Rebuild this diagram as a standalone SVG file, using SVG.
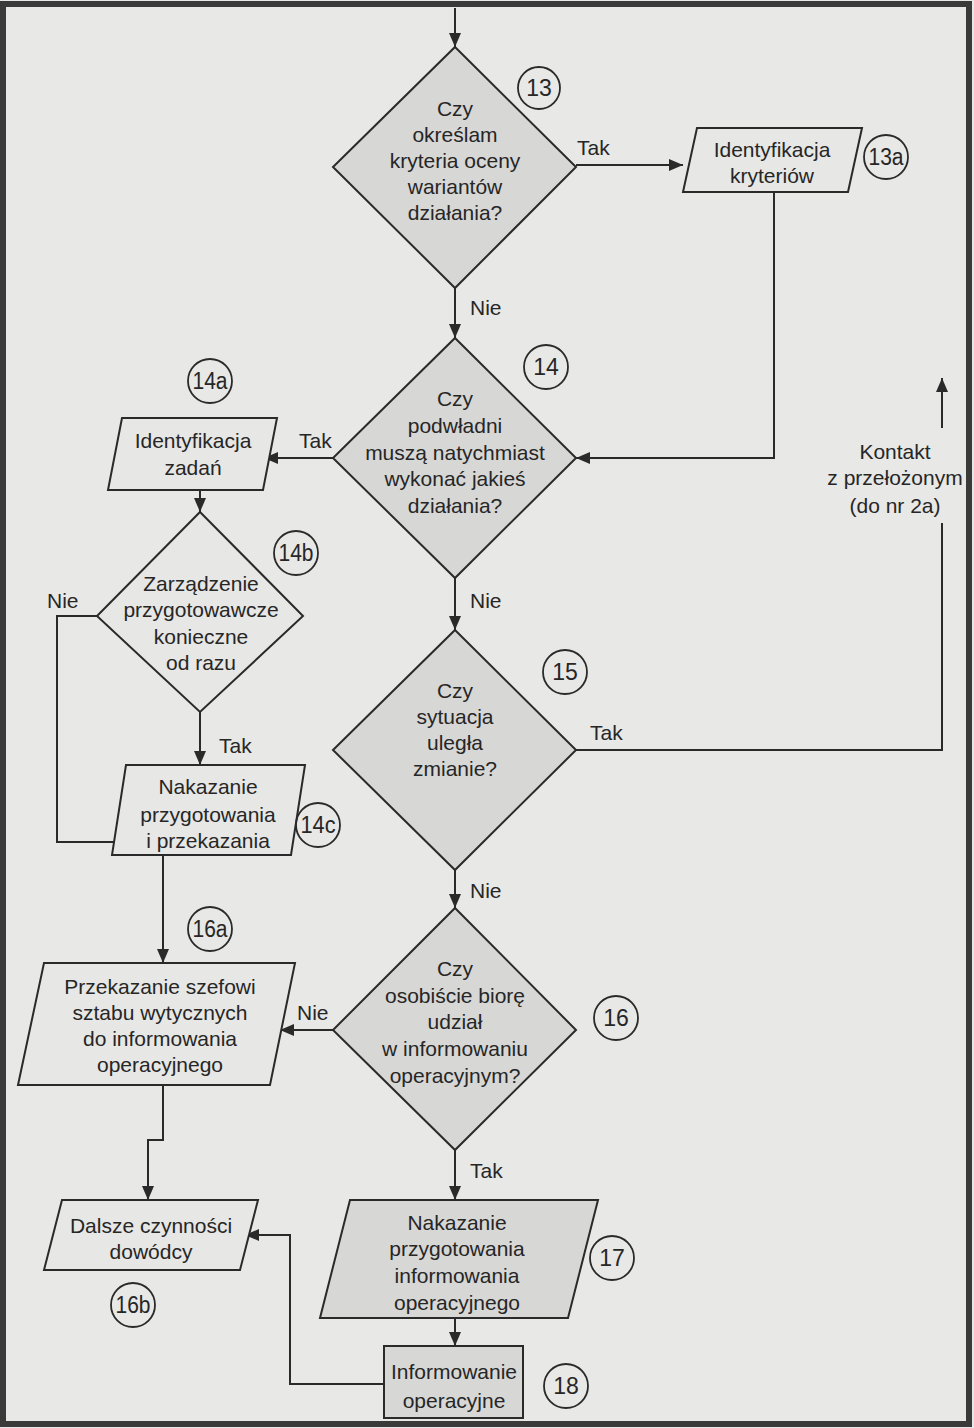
<svg xmlns="http://www.w3.org/2000/svg" width="974" height="1428" viewBox="0 0 974 1428">
  <defs>
    <marker id="arr" viewBox="0 0 14 12" refX="14" refY="6" markerWidth="14" markerHeight="12" markerUnits="userSpaceOnUse" orient="auto">
      <path d="M0,0 L14,6 L0,12 Z" fill="#2a2a2a"/>
    </marker>
    <style>
      .t{font-family:"Liberation Sans",Arial,sans-serif;font-size:21px;fill:#262626;text-anchor:middle}
      .lbl{font-family:"Liberation Sans",Arial,sans-serif;font-size:21px;fill:#262626}
      .num{font-family:"Liberation Sans",Arial,sans-serif;font-size:23px;fill:#262626;text-anchor:middle}
      .dia{fill:#d7d7d5;stroke:#2a2a2a;stroke-width:2}
      .box{fill:#e7e7e5;stroke:#2a2a2a;stroke-width:2}
      .boxg{fill:#d7d7d5;stroke:#2a2a2a;stroke-width:2}
      .circ{fill:none;stroke:#2a2a2a;stroke-width:1.8}
      .ln{fill:none;stroke:#2a2a2a;stroke-width:2}
    </style>
  </defs>

  <!-- page -->
  <rect x="0" y="0" width="974" height="1428" fill="#e8e8e6"/>
  <rect x="3" y="4" width="966" height="1420" fill="none" stroke="#3a3a3a" stroke-width="6"/>

  <!-- connectors -->
  <g id="connectors">
    <path class="ln" d="M455,8 V47" marker-end="url(#arr)"/>
    <path class="ln" d="M576,165 H683" marker-end="url(#arr)"/>
    <path class="ln" d="M455,288 V338" marker-end="url(#arr)"/>
    <path class="ln" d="M774,192 V458 H576" marker-end="url(#arr)"/>
    <path class="ln" d="M333,458 H264" marker-end="url(#arr)"/>
    <path class="ln" d="M200,490 V512" marker-end="url(#arr)"/>
    <path class="ln" d="M97,616 H57 V842 H114"/>
    <path class="ln" d="M200,712 V765" marker-end="url(#arr)"/>
    <path class="ln" d="M455,578 V630" marker-end="url(#arr)"/>
    <path class="ln" d="M576,750 H942 V523"/>
    <path class="ln" d="M942,428 V378" marker-end="url(#arr)"/>
    <path class="ln" d="M455,870 V908" marker-end="url(#arr)"/>
    <path class="ln" d="M163,855 V963" marker-end="url(#arr)"/>
    <path class="ln" d="M333,1030 H280" marker-end="url(#arr)"/>
    <path class="ln" d="M163,1085 V1140 H148 V1200" marker-end="url(#arr)"/>
    <path class="ln" d="M455,1150 V1200" marker-end="url(#arr)"/>
    <path class="ln" d="M455,1318 V1346" marker-end="url(#arr)"/>
    <path class="ln" d="M385,1384 H290 V1235 H245" marker-end="url(#arr)"/>
    <text class="lbl" x="577" y="155">Tak</text>
    <text class="lbl" x="470" y="315">Nie</text>
    <text class="lbl" x="299" y="448">Tak</text>
    <text class="lbl" x="470" y="608">Nie</text>
    <text class="lbl" x="47" y="608">Nie</text>
    <text class="lbl" x="219" y="753">Tak</text>
    <text class="lbl" x="590" y="740">Tak</text>
    <text class="lbl" x="470" y="898">Nie</text>
    <text class="lbl" x="297" y="1020">Nie</text>
    <text class="lbl" x="470" y="1178">Tak</text>
    <text class="t" x="895" y="459">Kontakt</text>
    <text class="t" x="895" y="485">z przełożonym</text>
    <text class="t" x="895" y="513">(do nr 2a)</text>
  </g>

  <!-- 13 -->
  <g id="n13">
    <polygon class="dia" points="455,47 576,167 455,288 333,167"/>
    <text class="t" x="455" y="116">Czy</text>
    <text class="t" x="455" y="142">określam</text>
    <text class="t" x="455" y="168">kryteria oceny</text>
    <text class="t" x="455" y="194">wariantów</text>
    <text class="t" x="455" y="220">działania?</text>
    <circle class="circ" cx="539" cy="88" r="21"/>
    <text class="num" x="539" y="96">13</text>
  </g>

  <!-- 13a -->
  <g id="n13a">
    <polygon class="box" points="697,128 862,128 848,192 683,192"/>
    <text class="t" x="772" y="157">Identyfikacja</text>
    <text class="t" x="772" y="183">kryteriów</text>
    <circle class="circ" cx="886" cy="157" r="22"/>
    <text class="num" x="886" y="165" textLength="35" lengthAdjust="spacingAndGlyphs">13a</text>
  </g>

  <!-- 14 -->
  <g id="n14">
    <polygon class="dia" points="455,338 576,458 455,578 333,458"/>
    <text class="t" x="455" y="406">Czy</text>
    <text class="t" x="455" y="433">podwładni</text>
    <text class="t" x="455" y="460">muszą natychmiast</text>
    <text class="t" x="455" y="486">wykonać jakieś</text>
    <text class="t" x="455" y="513">działania?</text>
    <circle class="circ" cx="546" cy="367" r="22"/>
    <text class="num" x="546" y="375">14</text>
  </g>

  <!-- 14a -->
  <g id="n14a">
    <polygon class="box" points="122,418 277,418 263,490 108,490"/>
    <text class="t" x="193" y="448">Identyfikacja</text>
    <text class="t" x="193" y="475">zadań</text>
    <circle class="circ" cx="210" cy="381" r="22"/>
    <text class="num" x="210" y="389" textLength="35" lengthAdjust="spacingAndGlyphs">14a</text>
  </g>

  <!-- 14b -->
  <g id="n14b">
    <polygon class="dia" points="200,512 303,616 200,712 97,616" style="fill:#e7e7e5"/>
    <text class="t" x="201" y="591">Zarządzenie</text>
    <text class="t" x="201" y="617">przygotowawcze</text>
    <text class="t" x="201" y="644">konieczne</text>
    <text class="t" x="201" y="670">od razu</text>
    <circle class="circ" cx="296" cy="553" r="22"/>
    <text class="num" x="296" y="561" textLength="35" lengthAdjust="spacingAndGlyphs">14b</text>
  </g>

  <!-- 14c -->
  <g id="n14c">
    <polygon class="box" points="126,765 305,765 291,855 112,855"/>
    <text class="t" x="208" y="794">Nakazanie</text>
    <text class="t" x="208" y="822">przygotowania</text>
    <text class="t" x="208" y="848">i przekazania</text>
    <circle class="circ" cx="318" cy="825" r="22"/>
    <text class="num" x="318" y="833" textLength="35" lengthAdjust="spacingAndGlyphs">14c</text>
  </g>

  <!-- 15 -->
  <g id="n15">
    <polygon class="dia" points="455,630 576,750 455,870 333,750"/>
    <text class="t" x="455" y="698">Czy</text>
    <text class="t" x="455" y="724">sytuacja</text>
    <text class="t" x="455" y="750">uległa</text>
    <text class="t" x="455" y="776">zmianie?</text>
    <circle class="circ" cx="565" cy="672" r="22"/>
    <text class="num" x="565" y="680">15</text>
  </g>

  <!-- 16 -->
  <g id="n16">
    <polygon class="dia" points="455,908 576,1030 455,1150 333,1030"/>
    <text class="t" x="455" y="976">Czy</text>
    <text class="t" x="455" y="1003">osobiście biorę</text>
    <text class="t" x="455" y="1029">udział</text>
    <text class="t" x="455" y="1056">w informowaniu</text>
    <text class="t" x="455" y="1083">operacyjnym?</text>
    <circle class="circ" cx="616" cy="1018" r="22"/>
    <text class="num" x="616" y="1026">16</text>
  </g>

  <!-- 16a -->
  <g id="n16a">
    <polygon class="box" points="44,963 295,963 270,1085 18,1085"/>
    <text class="t" x="160" y="994">Przekazanie szefowi</text>
    <text class="t" x="160" y="1020">sztabu wytycznych</text>
    <text class="t" x="160" y="1046">do informowania</text>
    <text class="t" x="160" y="1072">operacyjnego</text>
    <circle class="circ" cx="210" cy="929" r="22"/>
    <text class="num" x="210" y="937" textLength="35" lengthAdjust="spacingAndGlyphs">16a</text>
  </g>

  <!-- 16b -->
  <g id="n16b">
    <polygon class="box" points="62,1200 258,1200 240,1270 44,1270"/>
    <text class="t" x="151" y="1233">Dalsze czynności</text>
    <text class="t" x="151" y="1259">dowódcy</text>
    <circle class="circ" cx="133" cy="1305" r="22"/>
    <text class="num" x="133" y="1313" textLength="35" lengthAdjust="spacingAndGlyphs">16b</text>
  </g>

  <!-- 17 -->
  <g id="n17">
    <polygon class="boxg" points="350,1200 598,1200 568,1318 320,1318"/>
    <text class="t" x="457" y="1230">Nakazanie</text>
    <text class="t" x="457" y="1256">przygotowania</text>
    <text class="t" x="457" y="1283">informowania</text>
    <text class="t" x="457" y="1310">operacyjnego</text>
    <circle class="circ" cx="612" cy="1258" r="22"/>
    <text class="num" x="612" y="1266">17</text>
  </g>

  <!-- 18 -->
  <g id="n18">
    <rect class="boxg" x="384" y="1346" width="139" height="72"/>
    <text class="t" x="454" y="1379">Informowanie</text>
    <text class="t" x="454" y="1408">operacyjne</text>
    <circle class="circ" cx="566" cy="1386" r="22"/>
    <text class="num" x="566" y="1394">18</text>
  </g>
</svg>
